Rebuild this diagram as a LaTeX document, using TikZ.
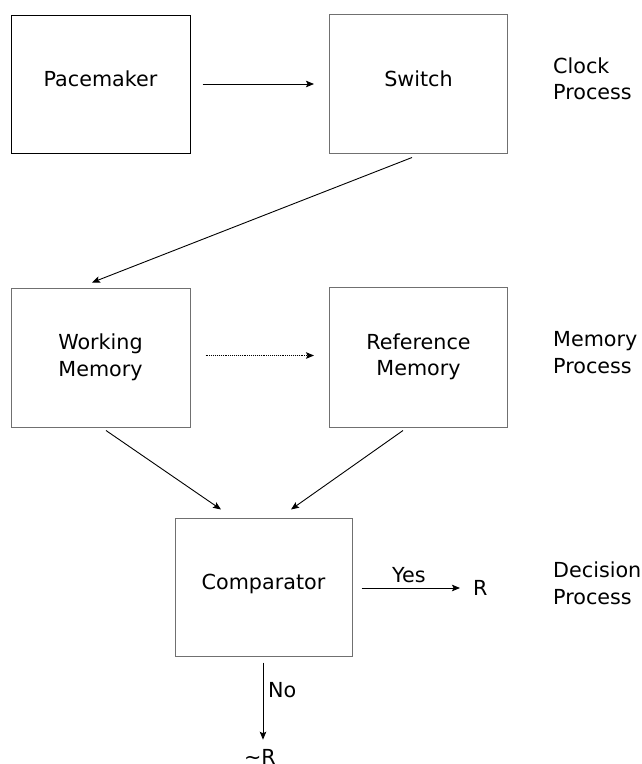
\documentclass[tikz,border=0pt]{standalone}
\usepackage{fontspec}
\setmainfont{DejaVu Sans}
\usetikzlibrary{arrows.meta}
\definecolor{boxgray}{RGB}{112,112,112}
\begin{document}
\begin{tikzpicture}[x=1pt,y=-1pt,
  every node/.style={font=\fontsize{20.7}{26.5}\selectfont},
  box/.style={draw=boxgray,line width=1pt,rectangle,inner sep=0pt,align=center},
  darkbox/.style={box,draw=black},
  oneline/.style={text height=0.76em,text depth=0.24em},
  lbl/.style={inner sep=0pt,align=left},
  conn/.style={draw=black,line width=0.9pt,-{Stealth[length=8pt,width=6.5pt,inset=1.5pt]}}
]
\useasboundingbox (0,0) rectangle (642,764);
\fill[white] (0,0) rectangle (642,764);

\node[darkbox,oneline,minimum width=179pt,minimum height=138pt] (pace) at (100.5,84) {Pacemaker};
\node[box,oneline,minimum width=178pt,minimum height=139pt] (switch) at (418.5,83.5) {Switch};
\node[box,minimum width=179pt,minimum height=139pt] (wm) at (100.5,357.5) {Working\\Memory};
\node[box,minimum width=178pt,minimum height=140pt] (rm) at (418.5,357) {Reference\\Memory};
\node[box,oneline,minimum width=177pt,minimum height=138pt] (comp) at (263.5,587) {Comparator};

\node[lbl,anchor=west] (clock) at (553,78.7) {Clock\\Process};
\node[lbl,anchor=west] (mem) at (553,352.8) {Memory\\Process};
\node[lbl,anchor=west] (dec) at (553,583.5) {Decision\\Process};

\node[inner sep=0pt,anchor=base west] (R) at (473,595) {R};
\node[inner sep=0pt,anchor=base] (nR) at (260,764) {\char"223C R};
\node[inner sep=0pt,anchor=base west] (yes) at (392,582) {Yes};
\node[inner sep=0pt,anchor=base west] (no) at (268,697) {No};

\draw[conn,shorten <=12pt,shorten >=15pt] (pace.east) -- (pace.east -| switch.west);
\draw[conn] ([xshift=-6.5pt,yshift=-4pt]switch.south) -- ([xshift=-8.5pt,yshift=5pt]wm.north);
\draw[conn,densely dotted,shorten <=15pt,shorten >=15pt] ([yshift=2pt]wm.east) -- ([yshift=2pt]wm.east -| rm.west);
\draw[conn] ([xshift=5.5pt,yshift=-3pt]wm.south) -- ([xshift=-42.5pt,yshift=8pt]comp.north);
\draw[conn] ([xshift=-15.5pt,yshift=-3pt]rm.south) -- ([xshift=27.5pt,yshift=8pt]comp.north);
\draw[conn,shorten <=9pt,shorten >=13pt] ([yshift=-1pt]comp.east) -- ([yshift=-1pt]comp.east -| R.west);
\draw[conn,shorten <=6pt,shorten >=9pt] ([xshift=-0.5pt]comp.south) -- ([xshift=-0.5pt]comp.south |- nR.north);
\end{tikzpicture}
\end{document}
